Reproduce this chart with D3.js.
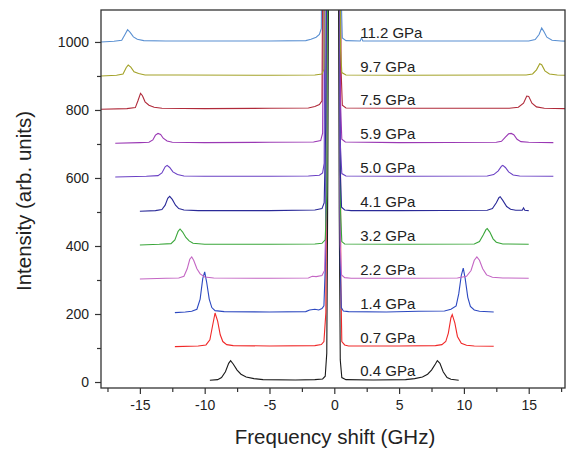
<!DOCTYPE html>
<html lang="en">
<head>
<meta charset="utf-8">
<title>Brillouin spectra</title>
<script src="https://cdn.jsdelivr.net/npm/d3@7/dist/d3.min.js"></script>
<style>
  body { margin: 0; background: #fff; }
  svg { font-family: "Liberation Sans", Arial, sans-serif; }
  .axis path, .axis line { stroke: #333; stroke-width: 1.2; }
  .axis text { fill: #222; font-size: 14px; font-family: "Liberation Sans", Arial, sans-serif; }
</style>
</head>
<body>
<svg id="chart" width="567" height="452"></svg>
<script>
// pressures, offsets and colours of the stacked spectra (bottom to top)
var labels  = ["0.4 GPa", "0.7 GPa", "1.4 GPa", "2.2 GPa", "3.2 GPa", "4.1 GPa",
               "5.0 GPa", "5.9 GPa", "7.5 GPa", "9.7 GPa", "11.2 GPa"];
var offsets = [5, 104, 204, 303, 403, 502, 603, 702, 802, 900, 1000];
var colors  = ["#1a1a1a", "#f02828", "#2c48c0", "#c466c4", "#3aa63a", "#2a2a98",
               "#6a40c4", "#9a38b4", "#b02a3a", "#a3a228", "#5a90d2"];

// [frequency shift (GHz), intensity above offset]
var s04 = [[-9.6,0],[-9.0,2],[-8.7,8],[-8.4,25],[-8.15,50],[-8.0,58],[-7.8,48],[-7.5,30],[-7.2,18],[-6.8,10],[-6.2,5],[-5.5,2],[-3,1],[-1.5,2],[-0.9,4],[-0.7,12],[-0.58,80],[-0.5,600],[-0.42,1500],[0.3,1500],[0.38,500],[0.46,60],[0.58,8],[0.9,2],[3,1],[5.5,2],[6.2,5],[6.8,10],[7.2,18],[7.5,30],[7.8,48],[7.95,58],[8.15,50],[8.4,25],[8.7,8],[9.0,3],[9.6,0]];
var s07 = [[-12.3,0],[-10.5,2],[-9.9,5],[-9.6,20],[-9.4,60],[-9.2,99],[-9.0,75],[-8.8,35],[-8.6,15],[-8.3,6],[-7.8,3],[-5,2],[-1.5,3],[-1.0,6],[-0.8,15],[-0.65,100],[-0.5,1500],[0.42,1500],[0.5,200],[0.58,15],[0.8,5],[1.1,2],[5,2],[7.8,3],[8.3,6],[8.6,15],[8.8,40],[9.0,85],[9.1,94],[9.3,70],[9.5,30],[9.8,10],[10.2,4],[10.8,2],[12.3,1]];
var s14 = [[-12.3,0],[-11.5,2],[-11,4],[-10.6,10],[-10.35,40],[-10.15,100],[-10.0,120],[-9.85,90],[-9.65,40],[-9.45,15],[-9.2,6],[-8.5,3],[-5,2],[-2.2,3],[-1.9,8],[-1.5,10],[-1.2,8],[-0.95,12],[-0.8,20],[-0.68,150],[-0.55,1500],[0.38,1500],[0.46,150],[0.54,15],[0.7,5],[1.1,3],[4,2],[6.5,4],[8.5,5],[9.0,10],[9.4,20],[9.6,55],[9.8,110],[9.95,131],[10.1,100],[10.3,45],[10.5,18],[10.8,8],[11.2,4],[12.3,2]];
var s22 = [[-15,0],[-13,2],[-12,3],[-11.6,8],[-11.35,30],[-11.15,58],[-11.0,65],[-10.85,55],[-10.6,30],[-10.35,15],[-10.0,6],[-9.3,3],[-5,2],[-2.0,3],[-1.7,8],[-1.4,7],[-0.95,10],[-0.75,25],[-0.62,200],[-0.5,1500],[0.38,1500],[0.46,100],[0.56,12],[0.8,4],[1.3,2],[5,2],[9.5,3],[10.2,8],[10.55,25],[10.8,55],[11.0,65],[11.2,55],[11.45,30],[11.75,12],[12.2,5],[13,3],[15,2]];
var s32 = [[-15,0],[-13.5,2],[-12.6,4],[-12.3,15],[-12.05,40],[-11.9,47],[-11.7,38],[-11.45,22],[-11.2,12],[-10.9,5],[-10,2],[-5,2],[-1.5,3],[-0.95,5],[-0.7,15],[-0.58,150],[-0.45,1500],[0.4,1500],[0.48,100],[0.58,10],[0.8,3],[5,2],[10.8,3],[11.2,10],[11.5,30],[11.7,45],[11.8,48],[12.0,38],[12.25,18],[12.5,8],[13,3],[15,2]];
var s41 = [[-15,0],[-13.8,2],[-13.3,5],[-13.05,18],[-12.85,38],[-12.7,44],[-12.5,35],[-12.25,18],[-12,8],[-11.6,4],[-10.5,2],[-5,2],[-1.5,4],[-0.95,8],[-0.78,25],[-0.66,250],[-0.52,1500],[0.38,1500],[0.46,120],[0.56,12],[0.8,4],[1.3,2],[5,2],[11.8,3],[12.2,8],[12.5,25],[12.7,40],[12.8,43],[13.0,32],[13.3,14],[13.6,6],[14.0,3],[14.5,3],[14.6,10],[14.7,3],[15,2]];
var s50 = [[-16.9,0],[-14.5,2],[-13.6,4],[-13.3,12],[-13.05,30],[-12.9,34],[-12.7,28],[-12.45,15],[-12.1,7],[-11.6,3],[-10,2],[-5,2],[-2,3],[-1.15,5],[-0.9,12],[-0.78,40],[-0.62,1500],[0.38,1500],[0.46,100],[0.58,10],[0.9,3],[5,2],[11.8,3],[12.3,7],[12.65,18],[12.9,32],[13.0,34],[13.2,28],[13.45,15],[13.8,6],[14.3,3],[16.9,2]];
var s59 = [[-16.9,0],[-15,2],[-14.3,3],[-14.0,10],[-13.8,24],[-13.6,29],[-13.4,26],[-13.2,15],[-12.9,7],[-12.5,3],[-10,2],[-5,3],[-1.6,4],[-1.05,8],[-0.9,30],[-0.7,1500],[0.4,1500],[0.48,120],[0.58,12],[0.85,4],[5,2],[12.5,3],[12.9,6],[13.2,18],[13.45,28],[13.65,29],[13.85,25],[14.1,12],[14.4,5],[15,3],[16.9,2]];
var s75 = [[-18,0],[-16,2],[-15.35,5],[-15.15,25],[-14.95,47],[-14.8,40],[-14.6,22],[-14.3,12],[-13.9,6],[-13.3,3],[-10,2],[-5,3],[-2,4],[-1.5,8],[-1.15,14],[-0.95,25],[-0.75,1500],[0.42,1500],[0.52,120],[0.62,12],[0.9,4],[5,3],[13.5,3],[14.2,6],[14.6,18],[14.85,39],[15.0,38],[15.25,18],[15.6,7],[16.2,3],[18,2]];
var s97 = [[-18,0],[-16.8,2],[-16.3,6],[-16.05,25],[-15.9,32],[-15.7,26],[-15.45,12],[-15.1,7],[-14.6,3],[-12,3],[-5,2],[-1.5,3],[-0.95,6],[-0.8,20],[-0.6,1500],[0.4,1500],[0.48,80],[0.58,10],[0.9,3],[5,2],[14.8,3],[15.3,6],[15.6,18],[15.85,36],[16.0,33],[16.25,15],[16.6,6],[17.2,3],[18,2]];
var s112 = [[-18,0],[-17,2],[-16.4,5],[-16.15,22],[-15.95,36],[-15.75,28],[-15.5,15],[-15.2,8],[-14.7,4],[-13,3],[-5,3],[-2.2,4],[-1.8,8],[-1.4,14],[-1.15,22],[-1.0,40],[-0.8,1500],[0.45,1500],[0.52,150],[0.62,12],[0.9,4],[2.0,3],[2.1,12],[2.2,3],[5,3],[15.0,3],[15.5,7],[15.8,22],[16.0,41],[16.15,32],[16.4,14],[16.8,5],[17.5,3],[18,2]];
var spectra = [s04, s07, s14, s22, s32, s41, s50, s59, s75, s97, s112];

var xMajor = [-15, -10, -5, 0, 5, 10, 15];
var xMinor = [-17.5, -12.5, -7.5, -2.5, 2.5, 7.5, 12.5, 17.5];
var yMajor = [0, 200, 400, 600, 800, 1000];
var yMinor = [100, 300, 500, 700, 900];

var svg = d3.select("#chart");
var plotL = 101, plotR = 565, plotT = 10, plotB = 388;

var x = d3.scaleLinear().domain([-18, 17.8]).range([plotL, plotR]);
var y = d3.scaleLinear().domain([-17.6, 1094]).range([plotB, plotT]);

svg.append("clipPath").attr("id", "clip")
  .append("rect").attr("x", plotL).attr("y", plotT)
  .attr("width", plotR - plotL).attr("height", plotB - plotT);

var line = d3.line()
  .x(function(d) { return x(d[0]); })
  .y(function(d) { return y(d[1]); });

var g = svg.append("g").attr("clip-path", "url(#clip)");
spectra.forEach(function(s, i) {
  g.append("path")
    .attr("d", line(s.map(function(p) { return [p[0], p[1] + offsets[i]]; })))
    .attr("fill", "none")
    .attr("stroke", colors[i])
    .attr("stroke-width", 1.1);
});

// pressure labels
svg.selectAll("text.lab")
  .data(labels)
  .enter().append("text")
  .attr("class", "lab")
  .attr("x", x(2.0))
  .attr("y", function(d, i) { return y(offsets[i]) - 4; })
  .attr("font-size", 15)
  .attr("fill", "#222")
  .text(function(d) { return d; });

// axes
var plain = function(d) { return String(d); };
svg.append("g").attr("class", "axis")
  .attr("transform", "translate(0," + plotB + ")")
  .call(d3.axisBottom(x).tickValues(xMinor).tickSize(4).tickSizeOuter(0).tickFormat(""));
svg.append("g").attr("class", "axis")
  .attr("transform", "translate(0," + plotB + ")")
  .call(d3.axisBottom(x).tickValues(xMajor).tickSize(6).tickSizeOuter(0).tickPadding(6)
    .tickFormat(plain));
svg.append("g").attr("class", "axis")
  .attr("transform", "translate(" + plotL + ",0)")
  .call(d3.axisLeft(y).tickValues(yMinor).tickSize(4).tickSizeOuter(0).tickFormat(""));
svg.append("g").attr("class", "axis")
  .attr("transform", "translate(" + plotL + ",0)")
  .call(d3.axisLeft(y).tickValues(yMajor).tickSize(6).tickSizeOuter(0).tickPadding(6)
    .tickFormat(plain));
svg.selectAll(".axis .domain").remove();

// frame
svg.append("rect")
  .attr("x", plotL).attr("y", plotT)
  .attr("width", plotR - plotL).attr("height", plotB - plotT)
  .attr("fill", "none").attr("stroke", "#333").attr("stroke-width", 1.3);

svg.append("text")
  .attr("x", 335).attr("y", 444)
  .attr("text-anchor", "middle")
  .attr("font-size", 20.5).attr("fill", "#222")
  .text("Frequency shift (GHz)");

svg.append("text")
  .attr("transform", "translate(31,201) rotate(-90)")
  .attr("text-anchor", "middle")
  .attr("font-size", 20.5).attr("fill", "#222")
  .text("Intensity (arb. units)");
</script>
</body>
</html>
